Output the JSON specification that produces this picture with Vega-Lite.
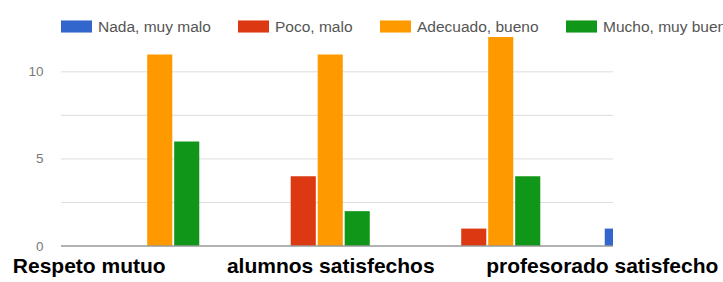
{
  "$schema": "https://vega.github.io/schema/vega-lite/v6.json",
  "autosize": {"type": "none"},
  "padding": {"left": 61, "top": 37, "right": 110, "bottom": 36},
  "width": 552,
  "height": 209,
  "background": "white",
  "config": {
    "view": {"stroke": null},
    "font": "Liberation Sans"
  },
  "datasets": {
    "respuestas": [
      {"pregunta": "Respeto mutuo", "respuesta": "Nada, muy malo", "n": 0},
      {"pregunta": "Respeto mutuo", "respuesta": "Poco, malo", "n": 0},
      {"pregunta": "Respeto mutuo", "respuesta": "Adecuado, bueno", "n": 11},
      {"pregunta": "Respeto mutuo", "respuesta": "Mucho, muy bueno", "n": 6},
      {"pregunta": "alumnos satisfechos", "respuesta": "Nada, muy malo", "n": 0},
      {"pregunta": "alumnos satisfechos", "respuesta": "Poco, malo", "n": 4},
      {"pregunta": "alumnos satisfechos", "respuesta": "Adecuado, bueno", "n": 11},
      {"pregunta": "alumnos satisfechos", "respuesta": "Mucho, muy bueno", "n": 2},
      {"pregunta": "profesorado satisfecho", "respuesta": "Nada, muy malo", "n": 0},
      {"pregunta": "profesorado satisfecho", "respuesta": "Poco, malo", "n": 1},
      {"pregunta": "profesorado satisfecho", "respuesta": "Adecuado, bueno", "n": 12},
      {"pregunta": "profesorado satisfecho", "respuesta": "Mucho, muy bueno", "n": 4},
      {"pregunta": "(recortado)", "respuesta": "Nada, muy malo", "n": 1}
    ],
    "cuadricula": [
      {"v": 2.5}, {"v": 5}, {"v": 7.5}, {"v": 10}
    ],
    "base": [
      {"v": 0}
    ]
  },
  "layer": [
    {
      "data": {"name": "cuadricula"},
      "mark": {"type": "rule", "color": "#dddddd", "strokeWidth": 1},
      "encoding": {
        "y": {"field": "v", "type": "quantitative"}
      }
    },
    {
      "data": {"name": "respuestas"},
      "mark": {"type": "bar", "clip": true},
      "encoding": {
        "x": {
          "field": "pregunta",
          "type": "nominal",
          "scale": {
            "domain": ["Respeto mutuo", "alumnos satisfechos", "profesorado satisfecho", "(recortado)"],
            "range": [0, 682],
            "paddingInner": 0.378,
            "paddingOuter": 0.189
          },
          "axis": {
            "title": null,
            "domain": false,
            "ticks": false,
            "grid": false,
            "labelAngle": 0,
            "labelFont": "Liberation Sans",
            "labelFontWeight": "bold",
            "labelFontSize": 21,
            "labelColor": "#000000",
            "labelPadding": 9,
            "labelLimit": 400,
            "labelOverlap": false,
            "labelExpr": "datum.value === '(recortado)' ? '' : datum.label",
            "labelOffset": {
              "condition": [
                {"test": "datum.value === 'Respeto mutuo'", "value": -57},
                {"test": "datum.value === 'alumnos satisfechos'", "value": 14}
              ],
              "value": 115
            }
          }
        },
        "xOffset": {
          "field": "respuesta",
          "type": "nominal",
          "scale": {
            "domain": ["Nada, muy malo", "Poco, malo", "Adecuado, bueno", "Mucho, muy bueno"],
            "paddingInner": 0.07,
            "paddingOuter": 0
          }
        },
        "y": {
          "field": "n",
          "type": "quantitative",
          "scale": {"domain": [0, 12], "nice": false},
          "axis": {
            "title": null,
            "values": [0, 5, 10],
            "grid": false,
            "domain": false,
            "ticks": false,
            "labelFont": "Liberation Sans",
            "labelFontSize": 13.5,
            "labelColor": "#7a7a7a",
            "labelPadding": 18
          }
        },
        "color": {
          "field": "respuesta",
          "type": "nominal",
          "scale": {
            "domain": ["Nada, muy malo", "Poco, malo", "Adecuado, bueno", "Mucho, muy bueno"],
            "range": ["#3366cc", "#dc3912", "#ff9900", "#109618"]
          },
          "legend": {
            "title": null,
            "orient": "none",
            "legendX": 0,
            "legendY": -26,
            "direction": "horizontal",
            "columns": 4,
            "symbolType": "M-1,-0.39H1V0.39H-1Z",
            "symbolSize": 961,
            "symbolStrokeWidth": 0,
            "symbolOpacity": 1,
            "labelFont": "Liberation Sans",
            "labelFontSize": 15.5,
            "labelColor": "#555555",
            "labelOffset": 6,
            "columnPadding": 27,
            "labelLimit": 300
          }
        }
      }
    },
    {
      "data": {"name": "base"},
      "mark": {"type": "rule", "color": "#999999", "strokeWidth": 1.5},
      "encoding": {"y": {"field": "v", "type": "quantitative"}}
    }
  ]
}
